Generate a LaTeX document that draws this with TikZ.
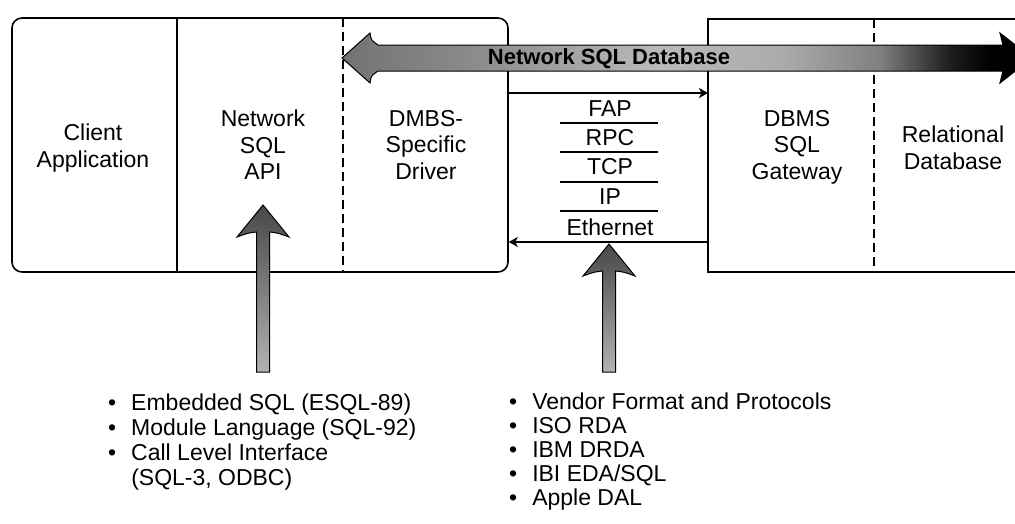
\documentclass[tikz,border=0pt]{standalone}
\usepackage{fontspec}
\setmainfont{Liberation Sans}
\usetikzlibrary{arrows.meta}

\pgfdeclarehorizontalshading{bandshade}{100bp}{color(0bp)=(black!55); color(25bp)=(black!55); color(35bp)=(black!45); color(48bp)=(black!27); color(57bp)=(black!33); color(64bp)=(black!50); color(69bp)=(black!88); color(72bp)=(black); color(100bp)=(black)}

\newcommand{\fatarrow}[3]{% x, tip y, tail y
	\draw[bigarrow] (#1,#2) -- (#1+26,#2+32) .. controls (#1+15,#2+28) .. (#1+6.5,#2+27) -- (#1+6.5,#3) -- (#1-6.5,#3) -- (#1-6.5,#2+27) .. controls (#1-15,#2+28) .. (#1-26,#2+32) -- cycle;}

\begin{document}
\begin{tikzpicture}[x=1pt,y=-1pt,
		every node/.style={font=\fontsize{23}{26.5}\selectfont, inner sep=0pt},
		label/.style={align=center},
		box/.style={draw, line width=1.6pt},
		divider/.style={line width=2.2pt, dash pattern=on 9pt off 5pt},
		msg/.style={line width=1.6pt, -{Stealth[length=9pt,width=10pt,inset=2.5pt]}},
		bigarrow/.style={draw=black, line width=1pt, top color=black!72, bottom color=black!30},
		band/.style={draw=black, line width=1pt, shade, shading=bandshade}]
		\useasboundingbox (0,0) rectangle (1015,523);
		% client side
		\node[box, rounded corners=10pt, minimum width=496pt, minimum height=254pt] (clientbox) at (260,145) {};
		\draw[line width=1.2pt] (177,18) -- (177,272);
		\draw[divider] (343,18) -- (343,272);
		\node[label] (client) at (93,148) {Client\\Application};
		\node[label] (netapi) at (263,145) {Network\\SQL\\API};
		\node[label] (driver) at (426,145) {DMBS-\\Specific\\Driver};
		% server side
		\coordinate (gw) at (708,145);
		\draw[box] (1020,19) -- (708,19) -- (708,272) -- (1020,272);
		\draw[divider] (874,19) -- (874,272);
		\node[label] (gateway) at (797,147) {DBMS\\SQL\\Gateway};
		\node[label] (reldb) at (953,148) {Relational\\Database};
		% protocol stack
		\node (fap) at (610,109) {FAP};
		\node (rpc) at (610,138) {RPC};
		\node (tcp) at (610,167) {TCP};
		\node (ip) at (610,197) {IP};
		\node (ether) at (610,227) {Ethernet};
		\foreach \y in {123,152,182,211}
			\draw[line width=1.1pt] (560,\y) -- (658,\y);
		\coordinate (req) at (610,93);
		\coordinate (rep) at (610,242);
		\draw[msg] (clientbox.east |- req) -- (gw |- req);
		\draw[msg] (gw |- rep) -- (clientbox.east |- rep);
		% banner
		\path[band] (342,58) -- (370,33) .. controls (371,40) .. (378,45) -- (1003,45) -- (1000,33) -- (1032,58) -- (1000,83) -- (1003,71) -- (378,71) .. controls (371,76) .. (370,83) -- cycle;
		\node (band) at (609,59) {\fontsize{22}{26}\selectfont\bfseries Network SQL Database};
		% interface arrows
		\fatarrow{263}{205}{372}
		\fatarrow{609}{244}{372}
		\node[anchor=base west] (apilist) at (108,410) {\fontsize{23}{25}\selectfont\begin{tabular}[t]{@{}l@{\hspace{15pt}}l@{}}
			\textbullet & Embedded SQL (ESQL-89)\\
			\textbullet & Module Language (SQL-92)\\
			\textbullet & Call Level Interface\\
			 & (SQL-3, ODBC)
		\end{tabular}};
		\node[anchor=base west] (protolist) at (509,409) {\fontsize{23}{24}\selectfont\begin{tabular}[t]{@{}l@{\hspace{15pt}}l@{}}
			\textbullet & Vendor Format and Protocols\\
			\textbullet & ISO RDA\\
			\textbullet & IBM DRDA\\
			\textbullet & IBI EDA/SQL\\
			\textbullet & Apple DAL
		\end{tabular}};
	\end{tikzpicture}
\end{document}
